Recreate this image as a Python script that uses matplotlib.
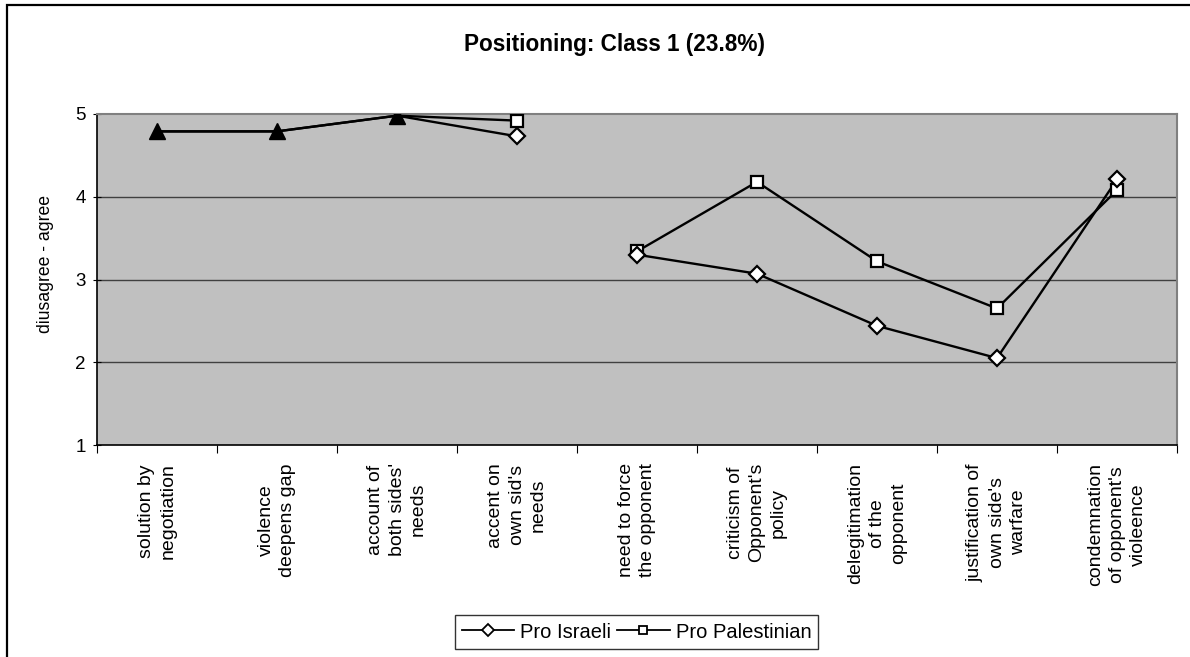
import matplotlib
matplotlib.use("Agg")
import matplotlib.pyplot as plt
import numpy as np
from matplotlib.patches import Rectangle

plt.rcParams['font.family'] = ['Liberation Sans', 'DejaVu Sans']

categories = [
    "solution by\nnegotiation",
    "violence\ndeepens gap",
    "account of\nboth sides'\nneeds",
    "accent on\nown sid's\nneeds",
    "need to force\nthe opponent",
    "criticism of\nOpponent's\npolicy",
    "delegitimation\nof the\nopponent",
    "justification of\nown side's\nwarfare",
    "condemnation\nof opponent's\nvioleence",
]
pro_israeli = [4.79, 4.79, 4.98, 4.73, 3.30, 3.07, 2.44, 2.05, 4.21]
pro_palestinian = [4.79, 4.79, 4.98, 4.92, 3.34, 4.18, 3.22, 2.65, 4.08]
shared_idx = [0, 1, 2]          # points where both groups coincide (triangles)
segments = [(0, 4), (4, 9)]     # line is broken between item 4 and item 5
yticks = [1, 2, 3, 4, 5]

W, H = 1190, 657
fig = plt.figure(figsize=(W / 100, H / 100), dpi=100)
ax = fig.add_axes([97 / W, 1 - 445 / H, (1177 - 97) / W, (445 - 114) / H])
ax.set_facecolor('#C0C0C0')

x = np.arange(len(categories)) + 0.5

for yv in yticks[1:-1]:
    ax.axhline(yv, color='#404040', lw=1.0, zorder=1)

for (a, b) in segments:
    ax.plot(x[a:b], pro_israeli[a:b], color='black', lw=1.7, zorder=3)
    ax.plot(x[a:b], pro_palestinian[a:b], color='black', lw=1.7, zorder=3)

rest = [i for i in range(len(categories)) if i not in shared_idx]
ax.plot(x[rest], np.array(pro_palestinian)[rest], ls='none', marker='s', ms=8,
        mfc='white', mec='black', mew=1.6, zorder=4)
ax.plot(x[rest], np.array(pro_israeli)[rest], ls='none', marker='D', ms=8,
        mfc='white', mec='black', mew=1.6, zorder=5)
ax.plot(x[shared_idx], np.array(pro_israeli)[shared_idx], ls='none', marker='^',
        ms=12, mfc='black', mec='black', zorder=6)

# legend handles
h1, = ax.plot([], [], color='black', lw=1.3, marker='D', ms=6, mfc='white',
              mec='black', mew=1.3, label='Pro Israeli')
h2, = ax.plot([], [], color='black', lw=1.3, marker='s', ms=6, mfc='white',
              mec='black', mew=1.3, label='Pro Palestinian')

ax.set_xlim(0, len(categories))
ax.set_ylim(1, 5)
ax.set_yticks(yticks)
ax.set_yticklabels([str(v) for v in yticks], fontsize=13.5)
ax.set_xticks(np.arange(len(categories) + 1))
ax.set_xticklabels([])
ax.set_xticks(x, minor=True)
ax.set_xticklabels(categories, minor=True, rotation=90, fontsize=14,
                   va='top', ha='center', multialignment='center',
                   linespacing=1.35)
ax.tick_params(axis='x', which='minor', length=0, pad=13)
ax.tick_params(axis='x', which='major', length=6, direction='out', color='black')
ax.tick_params(axis='y', length=6, direction='inout', color='black', pad=5)

for s in ['left', 'bottom']:
    ax.spines[s].set_color('black')
    ax.spines[s].set_linewidth(1.2)
for s in ['top', 'right']:
    ax.spines[s].set_color('#808080')
    ax.spines[s].set_linewidth(1.5)

ax.set_ylabel('diusagree - agree', fontsize=12.7)
ax.yaxis.set_label_coords(46 / W - 97 / W, 0.0, transform=fig.transFigure)
ax.yaxis.label.set_position((46 / W, 1 - 264 / H))
ax.yaxis.label.set_verticalalignment('center')

fig.text(614 / W, 1 - 45 / H, 'Positioning: Class 1 (23.8%)', ha='center',
         va='center', fontsize=16.3, fontweight='bold')

leg = fig.legend(handles=[h1, h2], loc='center', ncol=2,
                 bbox_to_anchor=(636.5 / W, 1 - 632 / H), fontsize=14.5,
                 frameon=True, fancybox=False, edgecolor='black',
                 handlelength=2.6, handletextpad=0.3, columnspacing=0.3,
                 borderpad=0.35)
leg.get_frame().set_linewidth(1.0)

fig.patches.append(Rectangle((7 / W, -0.1), 1.2, 0.1 + 1 - 5 / H,
                             transform=fig.transFigure, fill=False,
                             edgecolor='black', lw=1.6))

fig.savefig('out.png', dpi=100)
